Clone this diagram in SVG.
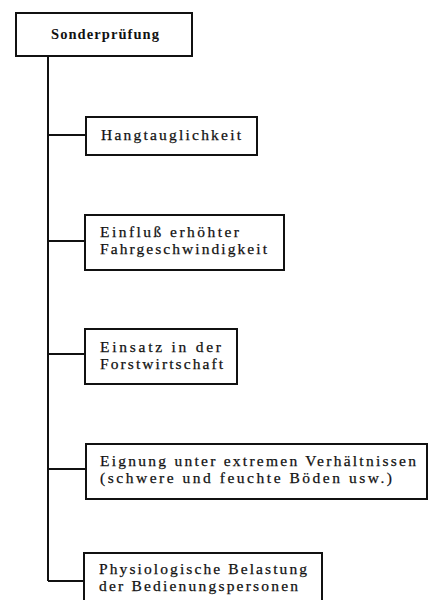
<svg xmlns="http://www.w3.org/2000/svg" width="434" height="600" viewBox="0 0 434 600">
<style>
.box{fill:#fff;stroke:#111;stroke-width:2}
.t{font-family:"Liberation Serif","DejaVu Serif",serif;font-size:15.5px;fill:#111;stroke:#111;stroke-width:0.25}
.b{font-family:"Liberation Serif","DejaVu Serif",serif;font-size:14.5px;font-weight:bold;fill:#111}
.c{stroke:#111;stroke-width:2;fill:none}
</style>
<rect width="434" height="600" fill="#fff"/>
<g id="connectors">
<path class="c" d="M48 56 V581"/>
<path class="c" d="M48 135 H86"/>
<path class="c" d="M48 241 H85"/>
<path class="c" d="M48 354 H85"/>
<path class="c" d="M48 469 H86"/>
<path class="c" d="M48 581 H84"/>
</g>
<g id="n0">
<rect class="box" x="16" y="13" width="176" height="43"/>
<text class="b" x="51" y="39" textLength="108" lengthAdjust="spacing">Sonderprüfung</text>
</g>
<g id="n1">
<rect class="box" x="86" y="117" width="171" height="38"/>
<text class="t" x="101" y="140" textLength="140" lengthAdjust="spacing">Hangtauglichkeit</text>
</g>
<g id="n2">
<rect class="box" x="85" y="215" width="199" height="55"/>
<text class="t" x="100" y="237" textLength="139" lengthAdjust="spacing">Einfluß erhöhter</text>
<text class="t" x="100" y="254" textLength="167" lengthAdjust="spacing">Fahrgeschwindigkeit</text>
</g>
<g id="n3">
<rect class="box" x="85" y="329" width="152" height="55"/>
<text class="t" x="100" y="352" textLength="121" lengthAdjust="spacing">Einsatz in der</text>
<text class="t" x="100" y="369" textLength="123" lengthAdjust="spacing">Forstwirtschaft</text>
</g>
<g id="n4">
<rect class="box" x="86" y="444" width="341" height="55"/>
<text class="t" x="100" y="466" textLength="316" lengthAdjust="spacing">Eignung unter extremen Verhältnissen</text>
<text class="t" x="100" y="483" textLength="292" lengthAdjust="spacing">(schwere und feuchte Böden usw.)</text>
</g>
<g id="n5">
<rect class="box" x="84" y="553" width="238" height="50"/>
<text class="t" x="99" y="574" textLength="208" lengthAdjust="spacing">Physiologische Belastung</text>
<text class="t" x="99" y="591" textLength="199" lengthAdjust="spacing">der Bedienungspersonen</text>
</g>
</svg>
